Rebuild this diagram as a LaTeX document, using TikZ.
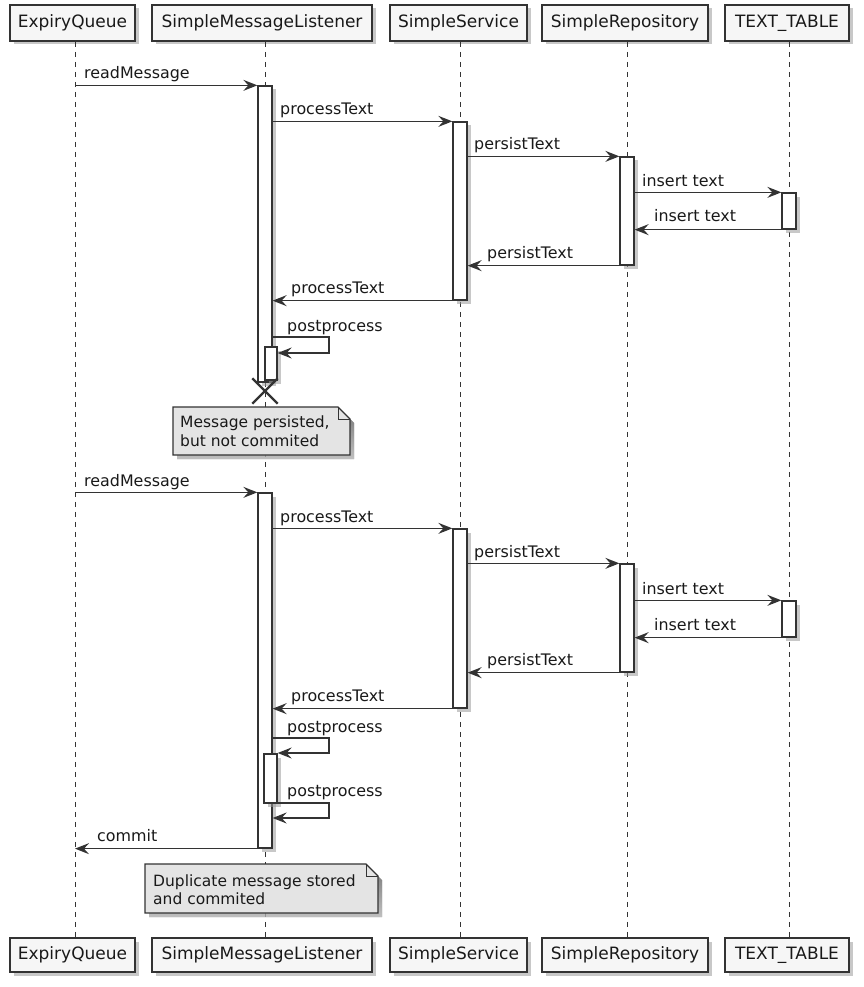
\documentclass[tikz,border=0pt]{standalone}
\usepackage{fontspec}
\setmainfont{DejaVu Sans}
\usetikzlibrary{arrows.meta,fit,shadows,shapes.misc}
\definecolor{ink}{HTML}{333333}
\definecolor{boxfill}{HTML}{F6F6F6}
\definecolor{notefill}{HTML}{E4E4E4}
\definecolor{shade}{HTML}{9A9A9A}
\begin{document}
\begin{tikzpicture}[x=1pt,y=-1pt,
  shd/.style={drop shadow={shadow xshift=3.5pt, shadow yshift=-3.5pt, fill=shade, opacity=0.55}},
  part/.style={draw=ink, line width=1.6pt, fill=boxfill, minimum height=36pt, inner sep=0pt,
               font=\fontsize{17}{20}\selectfont, text=black!90, shd},
  life/.style={draw=ink, line width=1pt, dash pattern=on 5pt off 5pt},
  bar/.style={draw=ink, line width=1.3pt, fill=white, inner sep=0pt, shd},
  msg/.style={draw=ink, line width=1.4pt, -{Stealth[length=14pt,width=11pt,inset=5pt]}},
  lbl/.style={font=\fontsize{15.9}{19}\selectfont, anchor=base west, inner sep=0pt, text=black!90},
  notebox/.style={draw=ink, line width=1.2pt, fill=notefill},
]
\useasboundingbox (0,0) rectangle (863,987);

% participants (top)
\node[part, minimum width=125pt] (eqT) at (72.5,23) {ExpiryQueue};
\node[part, minimum width=220pt] (lsT) at (262,23) {SimpleMessageListener};
\node[part, minimum width=137pt] (ssT) at (458.5,23) {SimpleService};
\node[part, minimum width=166pt] (srT) at (625,23) {SimpleRepository};
\node[part, minimum width=124pt] (ttT) at (787,23) {TEXT\_TABLE};
% participants (bottom)
\node[part, minimum width=125pt, minimum height=34pt] (eqB) at (72.5,955) {ExpiryQueue};
\node[part, minimum width=220pt, minimum height=34pt] (lsB) at (262,955) {SimpleMessageListener};
\node[part, minimum width=137pt, minimum height=34pt] (ssB) at (458.5,955) {SimpleService};
\node[part, minimum width=166pt, minimum height=34pt] (srB) at (625,955) {SimpleRepository};
\node[part, minimum width=124pt, minimum height=34pt] (ttB) at (787,955) {TEXT\_TABLE};

% lifelines
\coordinate (eqL) at (75,0);
\coordinate (lsL) at (265,0);
\coordinate (ssL) at (460,0);
\coordinate (srL) at (627,0);
\coordinate (ttL) at (789,0);
\draw[life] (eqT.south -| eqL) -- (eqB.north -| eqL);
\draw[life] (lsT.south -| lsL) -- (lsB.north -| lsL);
\draw[life] (ssT.south -| ssL) -- (ssB.north -| ssL);
\draw[life] (srT.south -| srL) -- (srB.north -| srL);
\draw[life] (ttT.south -| ttL) -- (ttB.north -| ttL);

% ===== first round =====
\node[bar, fit={(258,86)(272,382)}] (L1) {};
\node[bar, fit={(453,122)(467,300)}] (S1) {};
\node[bar, fit={(620,157)(634,265)}] (R1) {};
\node[bar, fit={(782,193)(796,229)}] (T1) {};
\node[bar, fit={(265,347)(277,380)}] (N1) {};

\draw[msg] (eqL |- L1.north) -- (L1.north west);
\node[lbl] (m1) at (84,79) {readMessage};
\draw[msg] (L1.east |- S1.north) -- (S1.north west);
\node[lbl] (m2) at (280,115) {processText};
\draw[msg] (S1.east |- R1.north) -- (R1.north west);
\node[lbl] (m3) at (474,150) {persistText};
\draw[msg] (R1.east |- T1.north) -- (T1.north west);
\node[lbl] (m4) at (642,186) {insert text};
\draw[msg] (T1.south west) -- (R1.east |- T1.south);
\node[lbl] (m5) at (654,222) {insert text};
\draw[msg] (R1.south west) -- (S1.east |- R1.south);
\node[lbl] (m6) at (487,258) {persistText};
\draw[msg] (S1.south west) -- (L1.east |- S1.south);
\node[lbl] (m7) at (291,293) {processText};
\draw[msg] (L1.east |- 0,337) -- (329,337) -- (329,353) -- (N1.east |- 0,353);
\node[lbl] (m8) at (287,331) {postprocess};

\node[cross out, draw=ink, line width=2.4pt, minimum size=23pt, inner sep=0pt] (x1) at (265,391) {};

% note 1
\fill[shade, opacity=0.55] (177,411) -- (342,411) -- (354,423) -- (354,459) -- (177,459) -- cycle;
\draw[notebox] (173,407) -- (338,407) -- (350,419) -- (350,455) -- (173,455) -- cycle;
\draw[draw=ink, line width=1pt] (338,407) -- (338,419) -- (350,419);
\node[lbl, font=\fontsize{15.5}{19}\selectfont] (n1a) at (180,427) {Message persisted,};
\node[lbl, font=\fontsize{15.5}{19}\selectfont] (n1b) at (180,446) {but not commited};

% ===== second round =====
\node[bar, fit={(258,493)(272,848)}] (L2) {};
\node[bar, fit={(453,529)(467,708)}] (S2) {};
\node[bar, fit={(620,564)(634,672)}] (R2) {};
\node[bar, fit={(782,601)(796,637)}] (T2) {};
\node[bar, fit={(264,754)(277,803)}] (N2) {};

\draw[msg] (eqL |- L2.north) -- (L2.north west);
\node[lbl] (k1) at (84,486) {readMessage};
\draw[msg] (L2.east |- S2.north) -- (S2.north west);
\node[lbl] (k2) at (280,522) {processText};
\draw[msg] (S2.east |- R2.north) -- (R2.north west);
\node[lbl] (k3) at (474,557) {persistText};
\draw[msg] (R2.east |- T2.north) -- (T2.north west);
\node[lbl] (k4) at (642,594) {insert text};
\draw[msg] (T2.south west) -- (R2.east |- T2.south);
\node[lbl] (k5) at (654,630) {insert text};
\draw[msg] (R2.south west) -- (S2.east |- R2.south);
\node[lbl] (k6) at (487,665) {persistText};
\draw[msg] (S2.south west) -- (L2.east |- S2.south);
\node[lbl] (k7) at (291,701) {processText};
\draw[msg] (L2.east |- 0,738) -- (329,738) -- (329,753) -- (N2.east |- 0,753);
\node[lbl] (k8) at (287,732) {postprocess};
\draw[msg] (N2.east |- 0,803) -- (329,803) -- (329,818) -- (L2.east |- 0,818);
\node[lbl] (k9) at (287,796) {postprocess};
\draw[msg] (L2.south west) -- (eqL |- L2.south);
\node[lbl] (k10) at (97,841) {commit};

% note 2
\fill[shade, opacity=0.55] (149,868) -- (370,868) -- (382,880) -- (382,917) -- (149,917) -- cycle;
\draw[notebox] (145,864) -- (366,864) -- (378,876) -- (378,913) -- (145,913) -- cycle;
\draw[draw=ink, line width=1pt] (366,864) -- (366,876) -- (378,876);
\node[lbl, font=\fontsize{15.5}{19}\selectfont] (n2a) at (153,886) {Duplicate message stored};
\node[lbl, font=\fontsize{15.5}{19}\selectfont] (n2b) at (153,904) {and commited};
\end{tikzpicture}
\end{document}
